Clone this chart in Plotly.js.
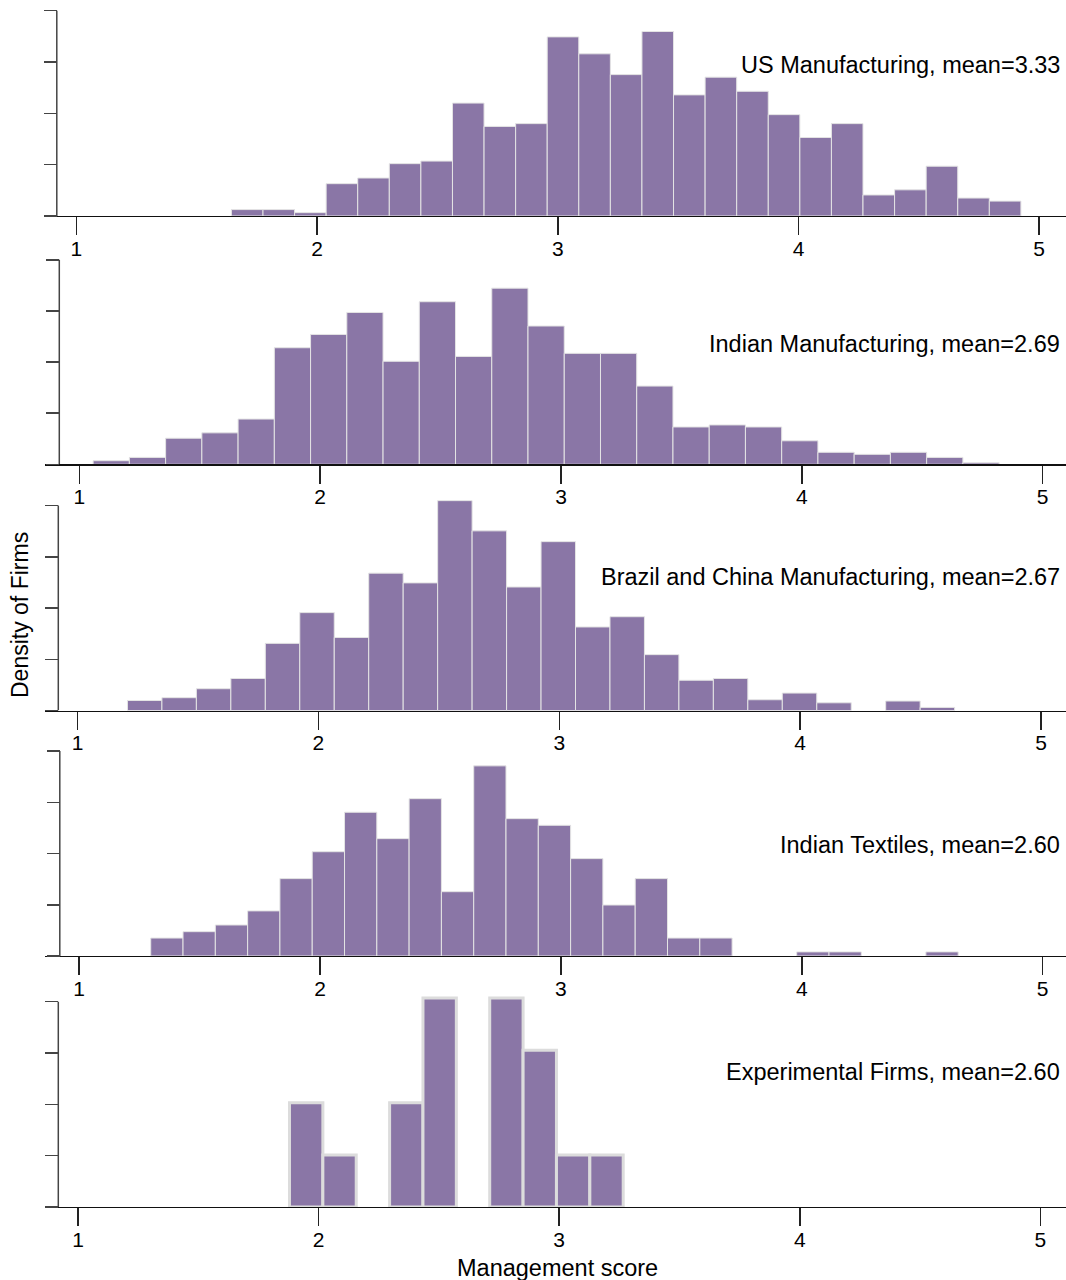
<!DOCTYPE html>
<html>
<head>
<meta charset="utf-8">
<script src="https://cdn.plot.ly/plotly-3.0.1.min.js"></script>
<style>
html,body{margin:0;padding:0;background:#ffffff;}
#chart{width:1066px;height:1280px;}
</style>
</head>
<body>
<div id="chart"></div>
<script>
// ---------------- DATA ----------------
const panelLabels = [
  "US Manufacturing, mean=3.33",
  "Indian Manufacturing, mean=2.69",
  "Brazil and China Manufacturing, mean=2.67",
  "Indian Textiles, mean=2.60",
  "Experimental Firms, mean=2.60"
];
const xTickVals = [1, 2, 3, 4, 5];
const xTickText = ["1", "2", "3", "4", "5"];
const yTickVals = [0, 0.2, 0.4, 0.6, 0.8];
const xAxisTitle = "Management score";
const yAxisTitle = "Density of Firms";

// histogram bins: first bin lower edge and bin width (management score units)
const usMfgBinStart = 1.644, usMfgBinWidth = 0.1312;
const usMfgDensity = [0.025, 0.025, 0.013, 0.126, 0.148, 0.204, 0.214, 0.440, 0.349, 0.360,
  0.698, 0.632, 0.551, 0.719, 0.472, 0.541, 0.486, 0.395, 0.306, 0.360,
  0.082, 0.102, 0.194, 0.070, 0.058];

const indMfgBinStart = 1.057, indMfgBinWidth = 0.1505;
const indMfgDensity = [0.014, 0.027, 0.102, 0.123, 0.177, 0.456, 0.508, 0.594, 0.403, 0.636,
  0.422, 0.689, 0.541, 0.434, 0.434, 0.306, 0.146, 0.154, 0.146, 0.092,
  0.047, 0.039, 0.047, 0.027, 0.006];

const braChnBinStart = 1.207, braChnBinWidth = 0.1431;
const braChnDensity = [0.039, 0.050, 0.085, 0.125, 0.262, 0.382, 0.285, 0.536, 0.498, 0.819,
  0.701, 0.482, 0.659, 0.326, 0.366, 0.218, 0.118, 0.125, 0.042, 0.068,
  0.030, 0.000, 0.037, 0.012];

const indTexBinStart = 1.297, indTexBinWidth = 0.1341;
const indTexDensity = [0.070, 0.095, 0.121, 0.176, 0.302, 0.407, 0.561, 0.458, 0.614, 0.251,
  0.742, 0.536, 0.510, 0.380, 0.199, 0.302, 0.070, 0.070, 0.000, 0.000,
  0.016, 0.016, 0.000, 0.000, 0.016];

const expBinStart = 1.879, expBinWidth = 0.1387;
const expDensity = [0.406, 0.203, 0.000, 0.406, 0.814, 0.000, 0.814, 0.611, 0.203, 0.203];

const panelData = [
  [usMfgBinStart, usMfgBinWidth, usMfgDensity],
  [indMfgBinStart, indMfgBinWidth, indMfgDensity],
  [braChnBinStart, braChnBinWidth, braChnDensity],
  [indTexBinStart, indTexBinWidth, indTexDensity],
  [expBinStart, expBinWidth, expDensity]
];

// ---------------- LAYOUT GEOMETRY (pixels) ----------------
const W = 1066, H = 1280;
const geom = [
  {base: 216.0, top: 10.7, tick1: 76.4, unit: 240.7, yAxisX: 56.8, labelY: 65, outline: 1},
  {base: 464.3, top: 259.8, tick1: 79.4, unit: 240.8, yAxisX: 59.3, labelY: 344, outline: 1},
  {base: 710.5, top: 505.5, tick1: 77.6, unit: 240.85, yAxisX: 58.3, labelY: 577, outline: 1},
  {base: 956.0, top: 751.0, tick1: 79.2, unit: 240.85, yAxisX: 59.8, labelY: 845, outline: 1},
  {base: 1207.0, top: 1001.7, tick1: 78.0, unit: 240.6, yAxisX: 58.3, labelY: 1072, outline: 3}
];
const xLeftPx = 45;
const yMax = 0.84;
const barColor = "rgb(138,118,166)";
const fontFam = "Liberation Sans, Arial, Helvetica, sans-serif";

const traces = [];
const layout = {
  width: W, height: H,
  margin: {l: 0, r: 0, t: 0, b: 0, pad: 0},
  paper_bgcolor: "#ffffff", plot_bgcolor: "rgba(0,0,0,0)",
  showlegend: false, bargap: 0,
  font: {family: fontFam, color: "#000"},
  shapes: [], annotations: []
};

geom.forEach((g, i) => {
  const n = i === 0 ? "" : String(i + 1);
  const [start, width, dens] = panelData[i];
  traces.push({
    type: "bar",
    x0: start + width / 2, dx: width,
    y: dens,
    xaxis: "x" + n, yaxis: "y" + n,
    marker: {
      color: barColor,
      line: {
        color: g.outline > 1 ? "#dcdcdc" : "#e4e4e4",
        width: dens.map(v => (v > 0 ? g.outline : 0))
      }
    },
    hoverinfo: "skip"
  });
  const topPx = g.base - (g.base - g.top) * (yMax / 0.8);
  layout["yaxis" + n] = {
    domain: [1 - g.base / H, 1 - topPx / H],
    range: [0, yMax],
    anchor: "free", position: g.yAxisX / W,
    showline: false, showgrid: false, zeroline: false,
    tickmode: "array", tickvals: yTickVals, showticklabels: false,
    ticks: "outside", ticklen: 13, tickwidth: 1.5, tickcolor: "#444"
  };
  layout["xaxis" + n] = {
    domain: [xLeftPx / W, 1],
    range: [1 - (g.tick1 - xLeftPx) / g.unit, 1 + (W - g.tick1) / g.unit],
    anchor: "y" + n,
    showline: true, linecolor: "#111", linewidth: 1.3,
    showgrid: false, zeroline: false,
    tickmode: "array", tickvals: xTickVals, ticktext: xTickText,
    ticks: "outside", ticklen: 18, tickwidth: 1.5, tickcolor: "#222",
    ticklabelstandoff: -5,
    tickfont: {size: 21, color: "#000", family: fontFam}
  };
  layout.shapes.push({
    type: "line", xref: "paper", yref: "y" + n,
    x0: g.yAxisX / W, x1: g.yAxisX / W, y0: 0, y1: 0.8,
    line: {color: "#444", width: 1.5}
  });
  layout.annotations.push({
    xref: "paper", yref: "paper",
    x: 1062 / W, y: 1 - g.labelY / H,
    xanchor: "right", yanchor: "middle",
    text: panelLabels[i], showarrow: false,
    font: {size: 23.5, color: "#000", family: fontFam}
  });
});

layout.annotations.push({
  xref: "paper", yref: "paper", x: 557 / W, y: 1 - 1268 / H,
  xanchor: "center", yanchor: "middle", text: xAxisTitle, showarrow: false,
  font: {size: 23.5, color: "#000", family: fontFam}
});
layout.annotations.push({
  xref: "paper", yref: "paper", x: 20 / W, y: 1 - 615 / H,
  xanchor: "center", yanchor: "middle", text: yAxisTitle, showarrow: false,
  textangle: -90,
  font: {size: 23, color: "#000", family: fontFam}
});

Plotly.newPlot("chart", traces, layout, {displayModeBar: false, staticPlot: true});
</script>
</body>
</html>
